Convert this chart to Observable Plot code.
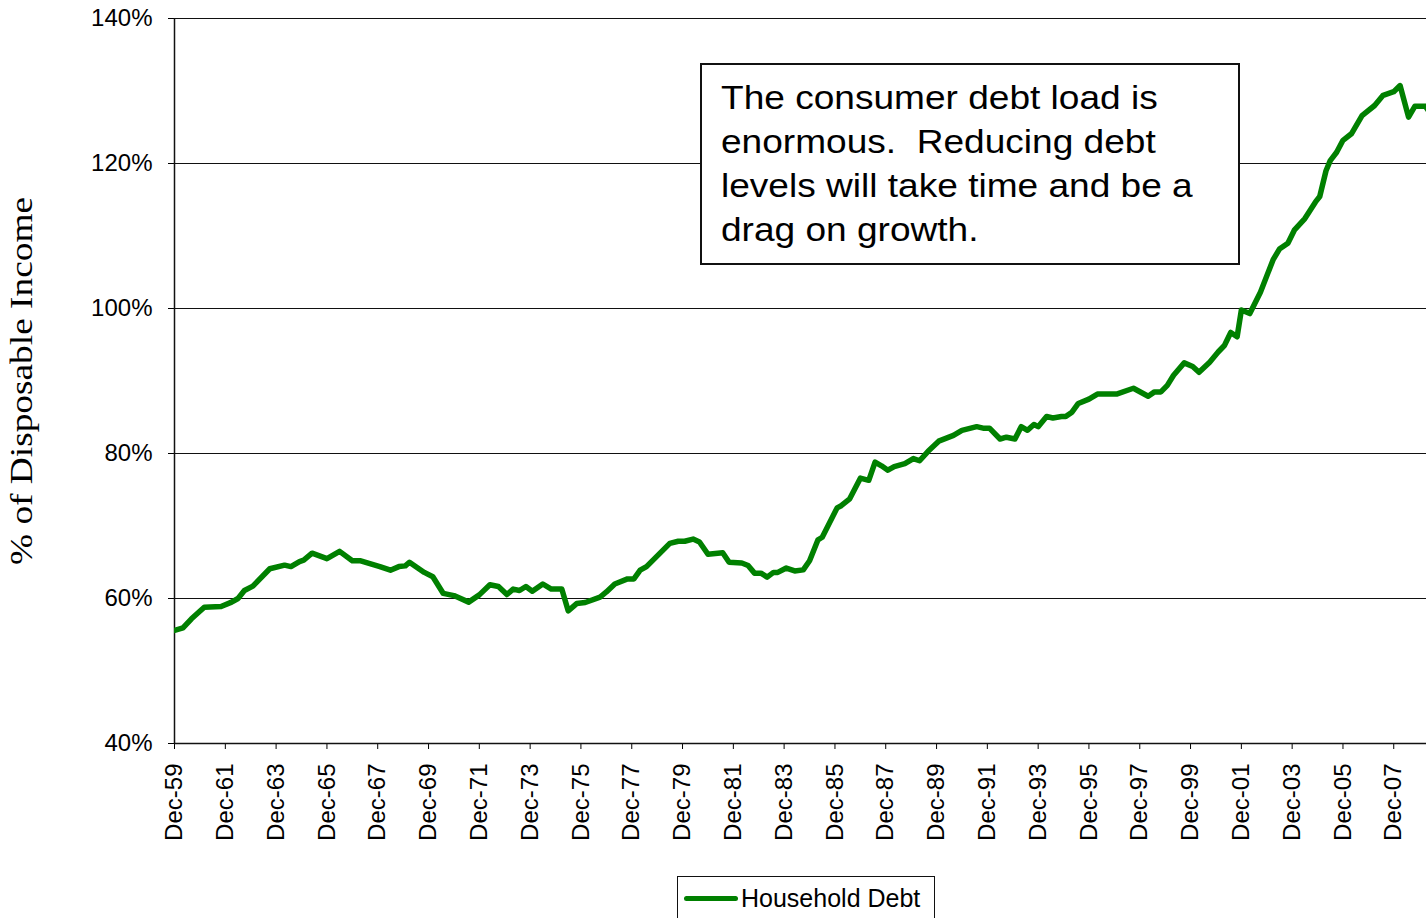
<!DOCTYPE html>
<html>
<head>
<meta charset="utf-8">
<script src="https://cdn.jsdelivr.net/npm/d3@7"></script>
<script src="https://cdn.jsdelivr.net/npm/@observablehq/plot@0.6"></script>
<style>
  html, body { margin: 0; padding: 0; background: #fff; }
  #wrap { position: relative; width: 1426px; height: 918px; overflow: hidden; font-family: "Liberation Sans", Arial, sans-serif; }
  #note { position: absolute; left: 700px; top: 63px; width: 540px; height: 202px; box-sizing: border-box;
          border: 2px solid #111; background: #fff; padding: 10px 0 0 19px; color: #000; }
  #note .txt { font-size: 34px; line-height: 44px; transform: scaleX(1.09); transform-origin: 0 0; white-space: nowrap; }
  #legend { position: absolute; left: 677px; top: 876px; width: 258px; height: 60px; box-sizing: border-box;
            border: 1px solid #111; background: #fff; }
  #legend .sw { position: absolute; left: 6px; top: 19px; width: 54px; height: 5px; background: #008000; border-radius: 3px; }
  #legend .lb { position: absolute; left: 63px; top: 6px; font-size: 25px; line-height: 30px; color: #000; }
</style>
</head>
<body>
<div id="wrap">
  <div id="chart"></div>
  <div id="note"><div class="txt">The consumer debt load is<br>enormous.&nbsp; Reducing debt<br>levels will take time and be a<br>drag on growth.</div></div>
  <div id="legend"><span class="sw"></span><span class="lb">Household Debt</span></div>
</div>
<script>
// Household debt as % of disposable income
const months = [
  "1959-12","1960-04","1960-08","1961-02","1961-10","1962-03","1962-06","1962-09","1963-01","1963-09",
  "1964-04","1964-07","1964-11","1965-01","1965-05","1965-12","1966-06","1966-12","1967-04","1968-01",
  "1968-06","1968-10","1969-01","1969-03","1969-10","1970-02","1970-07","1970-12","1971-07","1971-12",
  "1972-05","1972-09","1973-01","1973-04","1973-07","1973-10","1974-01","1974-06","1974-10","1975-03",
  "1975-06","1975-10","1976-02","1976-09","1976-12","1977-04","1977-10","1978-01","1978-04","1978-07",
  "1979-06","1979-10","1980-01","1980-05","1980-08","1980-12","1981-07","1981-10","1982-04","1982-07",
  "1982-10","1983-01","1983-04","1983-07","1983-09","1984-01","1984-05","1984-09","1984-12","1985-04",
  "1985-06","1986-01","1986-03","1986-07","1986-12","1987-04","1987-07","1987-10","1988-01","1988-04",
  "1988-09","1989-01","1989-04","1989-08","1990-01","1990-08","1990-12","1991-07","1991-10","1992-01",
  "1992-06","1992-09","1993-01","1993-04","1993-07","1993-10","1993-12","1994-04","1994-07","1994-11",
  "1995-01","1995-04","1995-07","1995-12","1996-04","1997-01","1997-09","1998-04","1998-07","1998-10",
  "1999-01","1999-04","1999-09","2000-01","2000-04","2000-09","2001-01","2001-04","2001-07","2001-10",
  "2001-12","2002-04","2002-09","2003-03","2003-06","2003-10","2004-01","2004-06","2004-11","2005-01",
  "2005-04","2005-06","2005-09","2005-12","2006-04","2006-09","2007-03","2007-07","2007-12","2008-03",
  "2008-07","2008-10","2009-03","2009-05"
];
const debtPct = [
  55.6, 55.95, 57.2, 58.8, 58.9, 59.5, 60.0, 61.1, 61.7, 64.1,
  64.6, 64.4, 65.1, 65.3, 66.25, 65.5, 66.5, 65.2, 65.2, 64.4,
  63.9, 64.4, 64.5, 65.0, 63.6, 63.0, 60.7, 60.4, 59.5, 60.5,
  61.9, 61.65, 60.55, 61.3, 61.1, 61.65, 61.0, 62.0, 61.3, 61.3,
  58.3, 59.3, 59.45, 60.2, 60.9, 62.0, 62.7, 62.7, 63.9, 64.4,
  67.6, 67.9, 67.9, 68.2, 67.8, 66.1, 66.3, 65.0, 64.9, 64.55,
  63.5, 63.5, 62.95, 63.6, 63.6, 64.2, 63.8, 63.95, 65.2, 68.1,
  68.45, 72.5, 72.8, 73.75, 76.6, 76.3, 78.8, 78.3, 77.7, 78.2,
  78.6, 79.3, 79.0, 80.3, 81.7, 82.5, 83.2, 83.7, 83.5, 83.5,
  82.0, 82.25, 82.0, 83.7, 83.2, 84.0, 83.7, 85.1, 84.9, 85.1,
  85.1, 85.7, 86.9, 87.5, 88.2, 88.2, 89.0, 87.9, 88.5, 88.5,
  89.4, 90.8, 92.5, 92.0, 91.2, 92.6, 94.0, 94.9, 96.7, 96.1,
  99.8, 99.3, 102.25, 106.7, 108.2, 109.0, 110.8, 112.4, 114.7, 115.45,
  119.0, 120.4, 121.55, 123.2, 124.1, 126.6, 128.0, 129.4, 129.9, 130.75,
  126.4, 127.9, 127.9, 127.0
];
const xTickLabels = ["Dec-59","Dec-61","Dec-63","Dec-65","Dec-67","Dec-69","Dec-71","Dec-73","Dec-75","Dec-77",
  "Dec-79","Dec-81","Dec-83","Dec-85","Dec-87","Dec-89","Dec-91","Dec-93","Dec-95","Dec-97",
  "Dec-99","Dec-01","Dec-03","Dec-05","Dec-07"];
const yTicks = [40, 60, 80, 100, 120, 140];
const yTitle = "% of Disposable Income";
const seriesName = "Household Debt";

const data = months.map((m, i) => ({ date: new Date(m + "-01T00:00:00Z"), value: debtPct[i] }));
const labelToDate = s => {
  const yy = +s.slice(4);
  return new Date(Date.UTC(yy >= 50 ? 1900 + yy : 2000 + yy, 11, 1));
};
const xTicks = xTickLabels.map(labelToDate);
const fmtX = d => { const y = d.getUTCFullYear() % 100; return "Dec-" + String(y).padStart(2, "0"); };
const x0 = new Date(Date.UTC(1959, 11, 1));
const x1 = new Date(Date.UTC(2009, 2, 16));

const chart = Plot.plot({
  width: 1426,
  height: 860,
  marginLeft: 174,
  marginRight: 0,
  marginTop: 18,
  marginBottom: 117,
  style: { fontFamily: '"Liberation Sans", Arial, sans-serif', fontSize: "24px", color: "#000", background: "transparent", overflow: "visible" },
  x: { type: "utc", domain: [x0, x1], ticks: xTicks, tickFormat: fmtX, tickRotate: -90, tickSize: 6, tickPadding: 14, label: null },
  y: { domain: [40, 140], ticks: yTicks, tickFormat: d => d + "%", tickSize: 6, tickPadding: 16, label: null },
  marks: [
    Plot.gridY(yTicks, { stroke: "#111", strokeOpacity: 1, strokeWidth: 1 }),
    Plot.ruleX([x0], { stroke: "#111", strokeWidth: 1.5 }),
    Plot.ruleY([40], { stroke: "#111", strokeWidth: 1.5 }),
    Plot.lineY(data, { x: "date", y: "value", stroke: "#008000", strokeWidth: 5.5, strokeLinejoin: "round", strokeLinecap: "round", clip: true })
  ]
});
document.getElementById("chart").appendChild(chart);
document.querySelector("#legend .lb").textContent = seriesName;

// rotated y-axis title in a serif face
d3.select(chart).append("text")
  .attr("transform", "translate(32,381) rotate(-90)")
  .attr("text-anchor", "middle")
  .attr("font-family", '"Liberation Serif", "Times New Roman", serif')
  .attr("font-size", 31)
  .attr("textLength", 368)
  .attr("lengthAdjust", "spacingAndGlyphs")
  .attr("fill", "#000")
  .text(yTitle);
</script>
</body>
</html>
